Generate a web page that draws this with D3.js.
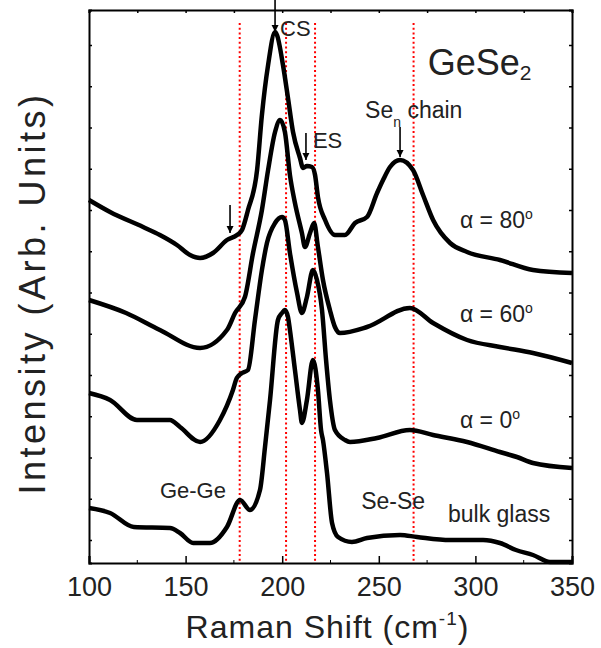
<!DOCTYPE html>
<html>
<head>
<meta charset="utf-8">
<script src="https://cdn.jsdelivr.net/npm/d3@7"></script>
<style>
  body { margin: 0; background: #fff; }
  text { font-family: "Liberation Sans", Arial, sans-serif; fill: #222; }
</style>
</head>
<body>
<div id="chart"></div>
<script>
// Raman spectra of GeSe2, stacked (intensity in arbitrary offset units)
const alpha80 = [[100,340],[110.9,328],[128,313],[136.7,305],[145.5,295],[152.3,285],[157.5,282],[164.2,287],[171.4,300],[176.6,305],[179.2,310],[182.3,330],[187,370],[189.5,425],[192.7,475],[196.3,508],[197.3,505],[200.4,475],[203,442],[205.6,408],[209.2,382],[210.8,372],[212.8,374],[215.4,373],[217,365],[218.5,343],[222.2,320],[227.3,305],[232.5,305],[237.7,317],[243.9,323],[249.1,347],[252.2,360],[255.8,373],[261,380],[267.7,370],[272.9,345],[278.1,320],[286.9,297],[295.7,288],[312.7,280],[329.8,270],[350,267]];
const alpha60 = [[100,240],[119.2,227],[136.7,210],[157.5,192],[171.4,210],[175.6,227],[180.7,243],[184.9,287],[189.5,330],[192.7,370],[196.3,408],[198.9,420],[201.4,408],[204,365],[206.6,337],[210.2,307],[211.8,293],[214.4,307],[216.5,317],[218.5,293],[221.1,260],[224.7,230],[227.3,213],[229.9,207],[243.9,213],[266.1,232],[278.1,217],[295.7,200],[312.7,193],[329.8,187],[350,177]];
const alpha0 = [[100,147],[110.9,140],[124.8,120],[141.9,120],[147.1,113],[157.5,98],[167.8,120],[174.5,150],[176.5,162],[179.2,167],[182.3,170],[185.9,220],[189.5,270],[192.1,297],[196.3,317],[199.9,323],[201.4,320],[204,287],[207.7,247],[210.2,227],[212.8,243],[215.9,270],[218,260],[220.6,230],[222.7,180],[224.7,140],[227.3,110],[232.5,100],[235.1,98],[249.1,102],[266.1,110],[278.1,105],[295.7,98],[312.7,88],[321.5,83],[329.8,77],[350,72]];
const bulkGlass = [[100,32],[110.9,27],[123.2,13],[141.9,12],[147.1,7],[153.9,-3],[162.6,-3],[171.4,13],[178.2,40],[183.3,30],[188.5,50],[191.1,93],[193.7,140],[197.8,220],[199.9,227],[201.4,230],[203,223],[204,210],[206.6,170],[209.2,130],[210.2,117],[212.8,140],[215.9,180],[218.5,150],[220.1,110],[221.1,100],[223.2,67],[225.8,17],[228.9,3],[236.1,-2],[243.9,2],[261,5],[269.8,3],[286.9,0],[304,0],[312.7,-3],[321,-10],[329.8,-15],[338.6,-22],[350,-22]];

const xMajorTicks = [100, 150, 200, 250, 300, 350];
const xMinorTicks = [125, 175, 225, 275, 325];
const yTicks = d3.range(0, 500, 41.25);
const refLines = [178, 202, 217, 268];
const refLineTop = 517;

// arrows: [x, yFrom, yTo]
const arrows = [[196.3, 540, 508], [212.3, 407, 380], [261, 413, 383], [173, 335, 307]];

const width = 601;
const height = 648;
const margin = { top: 10, right: 29, bottom: 85, left: 89 };

const svg = d3.select("#chart")
    .append("svg")
    .attr("width", width)
    .attr("height", height);

const xScale = d3.scaleLinear()
    .domain([100, 350])
    .range([margin.left, width - margin.right]);

const yScale = d3.scaleLinear()
    .domain([-23, 530])
    .range([height - margin.bottom, margin.top]);

// dotted red reference lines
svg.selectAll(".ref")
    .data(refLines)
    .enter()
    .append("line")
    .attr("x1", d => xScale(d))
    .attr("x2", d => xScale(d))
    .attr("y1", yScale(refLineTop))
    .attr("y2", yScale(-23))
    .attr("stroke", "#ff0000")
    .attr("stroke-width", 2)
    .attr("stroke-dasharray", "2,2.7");

// spectra
const line = d3.line()
    .curve(d3.curveMonotoneX)
    .x(d => xScale(d[0]))
    .y(d => yScale(d[1]));

svg.selectAll(".spectrum")
    .data([alpha80, alpha60, alpha0, bulkGlass])
    .enter()
    .append("path")
    .attr("d", line)
    .attr("fill", "none")
    .attr("stroke", "#000")
    .attr("stroke-width", 4.5)
    .attr("stroke-linejoin", "round");

// axes (ticks point inward)
const xBottom = d3.axisBottom(xScale).tickValues(xMajorTicks).tickSize(-7).tickPadding(14);
const gx = svg.append("g")
    .attr("transform", `translate(0, ${height - margin.bottom})`)
    .call(xBottom);
gx.selectAll("text").style("font-size", "27px").attr("fill", "#222");
gx.selectAll(".minor")
    .data(xMinorTicks)
    .enter()
    .append("line")
    .attr("x1", d => xScale(d))
    .attr("x2", d => xScale(d))
    .attr("y1", 0)
    .attr("y2", -3)
    .attr("stroke", "#000");

const xTop = d3.axisTop(xScale).tickValues(xMajorTicks.concat(xMinorTicks)).tickSize(-3).tickFormat("");
svg.append("g").attr("transform", `translate(0, ${margin.top})`).call(xTop);

svg.append("g")
    .attr("transform", `translate(${margin.left}, 0)`)
    .call(d3.axisLeft(yScale).tickValues(yTicks).tickSize(-3).tickFormat(""));
svg.append("g")
    .attr("transform", `translate(${width - margin.right}, 0)`)
    .call(d3.axisRight(yScale).tickValues(yTicks).tickSize(-3).tickFormat(""));

svg.selectAll(".domain").attr("stroke-width", 2);
svg.selectAll(".tick line").attr("stroke-width", 1.5);

// arrows
const defs = svg.append("defs");
defs.append("marker")
    .attr("id", "head")
    .attr("viewBox", "0 0 10 10")
    .attr("refX", 10)
    .attr("refY", 5)
    .attr("markerWidth", 7)
    .attr("markerHeight", 8)
    .attr("markerUnits", "userSpaceOnUse")
    .attr("orient", "auto")
    .append("path")
    .attr("d", "M0,0 L10,5 L0,10 Z")
    .attr("fill", "#000");

svg.selectAll(".arrow")
    .data(arrows)
    .enter()
    .append("line")
    .attr("x1", d => xScale(d[0]))
    .attr("x2", d => xScale(d[0]))
    .attr("y1", d => yScale(d[1]))
    .attr("y2", d => yScale(d[2]))
    .attr("stroke", "#000")
    .attr("stroke-width", 1.6)
    .attr("marker-end", "url(#head)");

// annotations
function label(x, y, size) {
    return svg.append("text")
        .attr("x", xScale(x))
        .attr("y", yScale(y))
        .style("font-size", size + "px");
}

label(198.9, 504, 22).text("CS");
label(215.9, 392, 22).text("ES");

const sen = label(242.9, 422, 23).text("Se");
sen.append("tspan").attr("dy", 9).style("font-size", "14px").text("n");
sen.append("tspan").attr("dy", -9).text(" chain");

const gese = label(275.3, 465, 36).text("GeSe");
gese.append("tspan").attr("dy", 5).style("font-size", "21px").text("2");

[["80", 312], ["60", 218], ["0", 112]].forEach(([a, y]) => {
    const t = label(292, y, 23).text("\u03b1 = " + a);
    t.append("tspan").attr("dy", -9).style("font-size", "14px").text("o");
});

label(136.7, 42, 22).text("Ge-Ge");
label(240.9, 31, 23).text("Se-Se");
label(285.8, 18, 23).text("bulk glass");

// axis titles
const xt = svg.append("text")
    .attr("text-anchor", "middle")
    .attr("x", (margin.left + width - margin.right) / 2 - 3)
    .attr("y", 638)
    .style("font-size", "32px")
    .style("letter-spacing", "1px")
    .text("Raman Shift (cm");
xt.append("tspan").attr("dy", -13).style("font-size", "19px").text("-1");
xt.append("tspan").attr("dy", 13).text(")");

svg.append("text")
    .attr("text-anchor", "middle")
    .attr("transform", `translate(45, 293) rotate(-90)`)
    .style("font-size", "36px")
    .style("letter-spacing", "3.5px")
    .text("Intensity (Arb. Units)");
</script>
</body>
</html>
